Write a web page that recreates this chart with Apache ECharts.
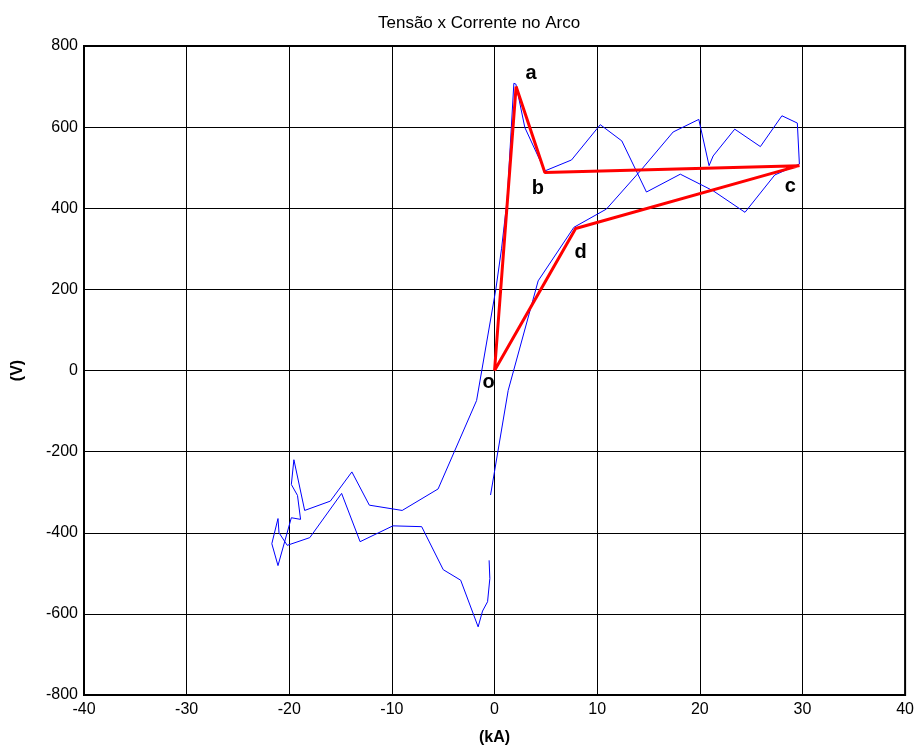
<!DOCTYPE html>
<html>
<head>
<meta charset="utf-8">
<script src="https://cdn.jsdelivr.net/npm/echarts@6/dist/echarts.min.js"></script>
<style>
html,body{margin:0;padding:0;background:#fff;}
#chart{width:917px;height:751px;}
</style>
</head>
<body>
<div id="chart"></div>
<script>
// Blue measured trace: current (kA) and voltage (V)
const traceI = [-0.53, -0.46, -0.68, -1.17, -1.6, -3.3, -5.0, -7.1, -9.9, -13.1, -14.9, -18.0, -20.2, -21.0, -21.1, -21.7, -21.1, -19.8, -18.9, -19.2, -19.8, -19.55, -18.5, -16.0, -13.9, -12.2, -9.0, -5.5, -1.75, 0.13, 0.68, 1.23, 1.88, 2.08, 2.95, 4.9, 7.5, 10.3, 12.4, 14.8, 18.1, 21.3, 24.4, 27.3, 29.7, 29.5, 28.0, 25.9, 23.4, 21.3, 20.9, 19.9, 17.4, 14.2, 10.9, 7.73, 4.25, 1.33, -0.39];
const traceV = [-468, -513, -570, -593, -632, -517, -491, -385, -383, -422, -303, -412, -431, -400, -365, -427, -481, -363, -367, -308, -281, -220, -345, -322, -250, -332, -345, -292, -74, 201, 300, 422, 708, 706, 599, 492, 519, 606, 566, 440, 484, 443, 390, 482, 509, 610, 628, 552, 595, 529, 505, 619, 588, 492, 398, 353, 221, -49, -307];
// Red idealised cycle o-a-b-c-d-o
const cycleNames = ['o', 'a', 'b', 'c', 'd', ''];
const cycleI = [0, 2.1, 4.9, 29.7, 7.9, 0];
const cycleV = [0, 700, 488, 505, 350, 0];
const xTicks = [-40, -30, -20, -10, 0, 10, 20, 30, 40];
const yTicks = [-800, -600, -400, -200, 0, 200, 400, 600, 800];

const labelOffsets = {o: [-6, 12], a: [15, -13], b: [-7, 16], c: [-9, 21], d: [5, 24]};

const chart = echarts.init(document.getElementById('chart'));
const fontFam = 'Liberation Sans, Arial, sans-serif';
chart.setOption({
  animation: false,
  backgroundColor: '#fff',
  title: {
    text: 'Tensão x Corrente no Arco',
    left: 373, top: 10,
    textStyle: {fontFamily: fontFam, fontSize: 17, fontWeight: 'normal', color: '#000'}
  },
  grid: {left: 84, right: 9, top: 46, bottom: 55, show: true, borderColor: '#000', borderWidth: 2, backgroundColor: '#fff'},
  xAxis: {
    type: 'value', min: xTicks[0], max: xTicks[xTicks.length - 1], interval: 10,
    name: '(kA)', nameLocation: 'middle', nameGap: 35,
    nameTextStyle: {fontFamily: fontFam, fontSize: 16, fontWeight: 'bold', color: '#000'},
    axisLine: {show: true, onZero: false, lineStyle: {color: '#000', width: 2}},
    axisTick: {show: true, inside: true, length: 4, lineStyle: {color: '#000'}},
    axisLabel: {fontFamily: fontFam, fontSize: 16, color: '#000', margin: 7},
    splitLine: {show: true, lineStyle: {color: '#000', width: 1}}
  },
  yAxis: {
    type: 'value', min: yTicks[0], max: yTicks[yTicks.length - 1], interval: 200,
    name: '(V)', nameLocation: 'middle', nameGap: 58, nameRotate: 90,
    nameTextStyle: {fontFamily: fontFam, fontSize: 16, fontWeight: 'bold', color: '#000'},
    axisLine: {show: true, onZero: false, lineStyle: {color: '#000', width: 2}},
    axisTick: {show: true, inside: true, length: 4, lineStyle: {color: '#000'}},
    axisLabel: {fontFamily: fontFam, fontSize: 16, color: '#000', margin: 6},
    splitLine: {show: true, lineStyle: {color: '#000', width: 1}}
  },
  series: [
    {
      type: 'line',
      data: traceI.map((x, i) => [x, traceV[i]]),
      showSymbol: false, symbol: 'none',
      lineStyle: {color: '#0000ff', width: 1},
      z: 3
    },
    {
      type: 'line',
      data: cycleI.map((x, i) => {
        const n = cycleNames[i];
        const d = {value: [x, cycleV[i]], name: n};
        if (n) {
          d.label = {show: true, formatter: n, position: 'inside', offset: labelOffsets[n],
            fontFamily: fontFam, fontSize: 20, fontWeight: 'bold', color: '#000'};
        }
        return d;
      }),
      symbol: 'circle', symbolSize: 1, showSymbol: true,
      itemStyle: {color: 'rgba(0,0,0,0)'},
      lineStyle: {color: '#ff0000', width: 3},
      label: {show: false},
      z: 4
    }
  ]
});
</script>
</body>
</html>
